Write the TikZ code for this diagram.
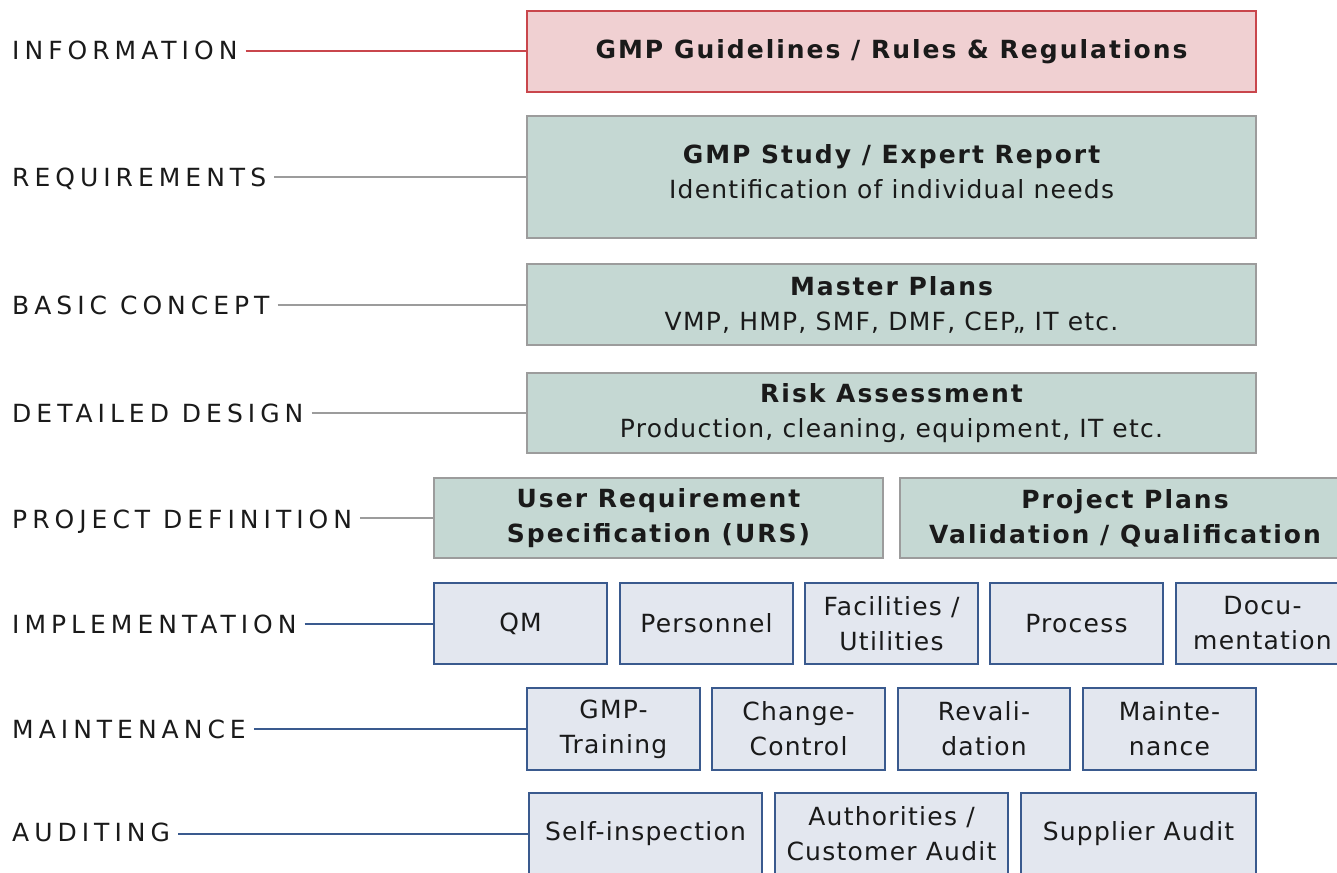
\documentclass[tikz,border=0pt]{standalone}
\usepackage{fontspec}
\setmainfont[LetterSpace=5]{DejaVu Sans}
\newfontfamily\lblfont[LetterSpace=20]{DejaVu Sans}
\newfontfamily\hdfont[LetterSpace=8]{DejaVu Sans}
\definecolor{pinkfill}{HTML}{F0D0D2}
\definecolor{redline}{HTML}{C9464C}
\definecolor{greenfill}{HTML}{C5D8D3}
\definecolor{grayline}{HTML}{9C9C9C}
\definecolor{bluefill}{HTML}{E3E7EF}
\definecolor{blueline}{HTML}{3A5A8E}
\definecolor{txt}{HTML}{1A1A1A}
\newcommand{\hd}[1]{{\hdfont\bfseries #1}}
\begin{document}
\begin{tikzpicture}[x=1pt,y=-1pt,
  box/.style={draw,line width=1.8pt,inner sep=0pt,outer sep=0pt,align=center,text=txt,
    font=\fontsize{25}{35}\selectfont},
  pinkbox/.style={box,fill=pinkfill,draw=redline},
  greenbox/.style={box,fill=greenfill,draw=grayline},
  bluebox/.style={box,fill=bluefill,draw=blueline},
  lbl/.style={anchor=base west,inner sep=0pt,text=txt,font=\lblfont\fontsize{25}{30}\selectfont},
  conn/.style={line width=2pt}
]
\useasboundingbox (0,0) rectangle (1337,872);
% boxes
\node[pinkbox,minimum width=729pt,minimum height=81pt] (info) at (891.5,51.5) {\hd{GMP Guidelines / Rules \& Regulations}};
\node[greenbox,minimum width=729pt,minimum height=122pt] (req) at (891.5,177) {\hd{GMP Study / Expert Report}\\Identification of individual needs\\[-25pt]};
\node[greenbox,minimum width=729pt,minimum height=81pt] (mp) at (891.5,304.5) {\hd{Master Plans}\\VMP, HMP, SMF, DMF, CEP,, IT etc.};
\node[greenbox,minimum width=729pt,minimum height=80pt] (ra) at (891.5,413) {\hd{Risk Assessment}\\Production, cleaning, equipment, IT etc.};
\node[greenbox,minimum width=449pt,minimum height=80pt] (urs) at (658.5,518) {\hd{User Requirement}\\\hd{Specification (URS)}};
\node[greenbox,minimum width=450pt,minimum height=80pt] (pp) at (1125,518) {\hd{Project Plans}\\\hd{Validation / Qualification}};
% implementation
\node[bluebox,minimum width=173pt,minimum height=81pt] (qm) at (520.5,623.5) {QM};
\node[bluebox,minimum width=173pt,minimum height=81pt] (pers) at (706.5,623.5) {Personnel};
\node[bluebox,minimum width=173pt,minimum height=81pt] (fac) at (891.5,623.5) {Facilities /\\Utilities};
\node[bluebox,minimum width=173pt,minimum height=81pt] (proc) at (1076.5,623.5) {Process};
\node[bluebox,minimum width=173pt,minimum height=81pt] (docu) at (1262.5,623.5) {Docu-\\mentation};
% maintenance
\node[bluebox,minimum width=173pt,minimum height=82pt] (gt) at (613.5,729) {GMP-\\Training};
\node[bluebox,minimum width=173pt,minimum height=82pt] (cc) at (798.5,729) {Change-\\Control};
\node[bluebox,minimum width=172pt,minimum height=82pt] (rev) at (984,729) {Revali-\\dation};
\node[bluebox,minimum width=173pt,minimum height=82pt] (mnt) at (1169.5,729) {Mainte-\\nance};
% auditing
\node[bluebox,minimum width=233pt,minimum height=82pt] (self) at (645.5,834) {Self-inspection};
\node[bluebox,minimum width=233pt,minimum height=82pt] (auth) at (891.5,834) {Authorities /\\Customer Audit};
\node[bluebox,minimum width=235pt,minimum height=82pt] (sup) at (1138.5,834) {Supplier Audit};
% labels
\node[lbl] (linfo) at (12,60) {INFORMATION};
\node[lbl] (lreq) at (12,186) {REQUIREMENTS};
\node[lbl] (lbas) at (12,314) {BASIC CONCEPT};
\node[lbl] (ldet) at (12,422) {DETAILED DESIGN};
\node[lbl] (lproj) at (12,528) {PROJECT DEFINITION};
\node[lbl] (limp) at (12,633) {IMPLEMENTATION};
\node[lbl] (lmnt) at (12,738) {MAINTENANCE};
\node[lbl] (laud) at (12,841) {AUDITING};
% connectors
\draw[conn,draw=redline] ([xshift=8pt]linfo.east |- info.west) -- (info.west);
\draw[conn,draw=grayline] ([xshift=8pt]lreq.east |- req.west) -- (req.west);
\draw[conn,draw=grayline] ([xshift=8pt]lbas.east |- mp.west) -- (mp.west);
\draw[conn,draw=grayline] ([xshift=8pt]ldet.east |- ra.west) -- (ra.west);
\draw[conn,draw=grayline] ([xshift=8pt]lproj.east |- urs.west) -- (urs.west);
\draw[conn,draw=blueline] ([xshift=8pt]limp.east |- qm.west) -- (qm.west);
\draw[conn,draw=blueline] ([xshift=8pt]lmnt.east |- gt.west) -- (gt.west);
\draw[conn,draw=blueline] ([xshift=8pt]laud.east |- self.west) -- (self.west);
\end{tikzpicture}
\end{document}
